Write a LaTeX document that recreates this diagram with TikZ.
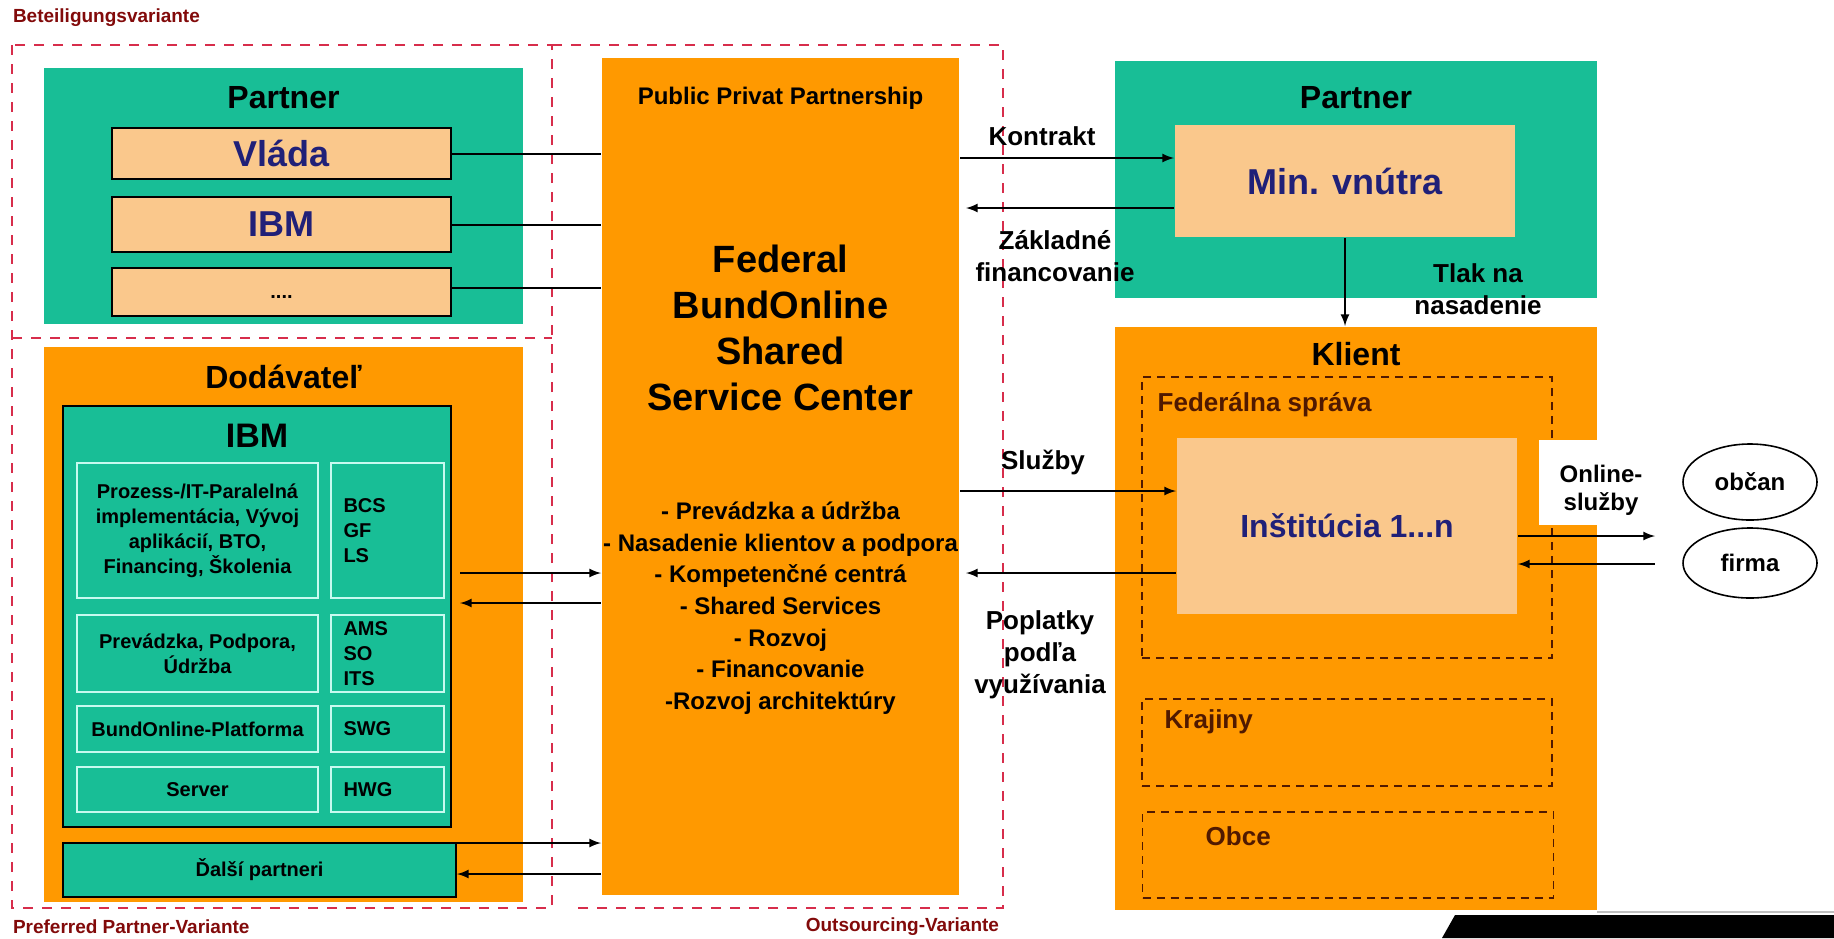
\documentclass[tikz,border=0pt]{standalone}
\usepackage{fontspec}
\setmainfont{Liberation Sans}
\usepackage{color}
\definecolor{mygreen}{RGB}{24,190,150}
\definecolor{myorange}{RGB}{255,153,0}
\definecolor{mypeach}{RGB}{250,200,140}
\definecolor{mynavy}{RGB}{32,32,120}
\definecolor{mydarkred}{RGB}{130,10,10}
\definecolor{myred}{RGB}{215,45,75}
\definecolor{mybrown}{RGB}{80,25,0}
\definecolor{mycyan}{RGB}{200,250,240}
\usepackage{tikz}
\usetikzlibrary{arrows,positioning,shapes.geometric}
\tikzstyle{greenbox}=[fill=mygreen,inner sep=0pt]
\tikzstyle{orangebox}=[fill=myorange,inner sep=0pt]
\tikzstyle{peachbox}=[fill=mypeach,inner sep=0pt]
\tikzstyle{cell}=[draw=mycyan,line width=0.8pt,inner sep=0pt]
\tikzstyle{zone}=[draw=mybrown,dashed,line width=0.8pt,inner sep=0pt,dash pattern=on 4pt off 3pt]
\tikzstyle{variant}=[draw=myred,line width=1.3pt,dash pattern=on 5pt off 4.5pt]
\tikzstyle{title}=[font=\bfseries\fontsize{16}{19}\selectfont]
\tikzstyle{navytxt}=[font=\bfseries\fontsize{18}{21}\selectfont,text=mynavy]
\tikzstyle{small}=[font=\bfseries\fontsize{10}{12.5}\selectfont,align=center]
\tikzstyle{zonetxt}=[font=\bfseries\fontsize{13}{15}\selectfont,text=mybrown,anchor=west]
\tikzstyle{lbl}=[font=\bfseries\fontsize{13}{16}\selectfont,align=center]
\tikzstyle{redlbl}=[font=\bfseries\fontsize{9.5}{11}\selectfont,text=mydarkred,inner sep=0pt]

\begin{document}
\begin{tikzpicture}[x=0.5pt,y=-0.5pt,>=latex,line width=1pt]
\useasboundingbox (0,0) rectangle (1834,938);

% variants
\draw[variant] (12,45) rectangle (552,908);
\draw[variant] (12,338) -- (552,338);
\draw[variant] (552,45) -- (1003,45) -- (1003,908) -- (570,908);
\node[redlbl,anchor=west] (bet) at (12,18) {Beteiligungsvariante};
\node[redlbl,anchor=west] (ppv) at (12,927) {Preferred Partner-Variante};
\node[redlbl,anchor=east] (osv) at (1000,927) {Outsourcing-Variante};

% partner (left)
\node[greenbox,minimum width=239.5pt,minimum height=128pt] (ptnl) at (283.5,196) {};
\node[title] (ptnlt) at (283.5,98) {Partner};
\node[peachbox,draw=black,minimum width=169.5pt,minimum height=25.5pt,navytxt] (vlada) at (281.5,153.5) {Vláda};
\node[peachbox,draw=black,minimum width=169.5pt,minimum height=27.5pt,navytxt] (ibmp) at (281.5,224.5) {IBM};
\node[peachbox,draw=black,minimum width=169.5pt,minimum height=24pt,small] (dots) at (281.5,292) {\\[-6pt]....};

% dodavatel
\node[orangebox,minimum width=239.5pt,minimum height=277.5pt] (dod) at (283.5,624.5) {};
\node[title] (dodt) at (283.5,377) {Dodávateľ};
\node[greenbox,draw=black,line width=1pt,minimum width=194pt,minimum height=210.5pt] (ibm) at (257,616.5) {};
\node[title,font=\bfseries\fontsize{17}{20}\selectfont] (ibmt) at (257,436) {IBM};
\node[cell,small,minimum width=120.5pt,minimum height=67.5pt] (c1) at (197.5,530.5)
  {Prozess-/IT-Paralelná\\implementácia, Vývoj\\aplikácií, BTO,\\Financing, Školenia};
\node[cell,small,align=left,text width=44pt,minimum width=56.5pt,minimum height=67.5pt] (d1) at (387.5,530.5) {BCS\\GF\\LS};
\node[cell,small,minimum width=120.5pt,minimum height=38.5pt] (c2) at (197.5,653.5) {Prevádzka, Podpora,\\Údržba};
\node[cell,small,align=left,text width=44pt,minimum width=56.5pt,minimum height=38.5pt] (d2) at (387.5,653.5) {AMS\\SO\\ITS};
\node[cell,small,minimum width=120.5pt,minimum height=23pt] (c3) at (197.5,729) {BundOnline-Platforma};
\node[cell,small,align=left,text width=44pt,minimum width=56.5pt,minimum height=23pt] (d3) at (387.5,729) {SWG};
\node[cell,small,minimum width=120.5pt,minimum height=22.5pt] (c4) at (197.5,789.5) {Server};
\node[cell,small,align=left,text width=44pt,minimum width=56.5pt,minimum height=22.5pt] (d4) at (387.5,789.5) {HWG};
\node[greenbox,draw=black,line width=1pt,small,minimum width=196.5pt,minimum height=27pt] (dalsi) at (259.5,870) {Ďalší partneri};

% shared service center
\node[orangebox,minimum width=178.5pt,minimum height=418.5pt] (fed) at (780.5,476.5) {};
\node[font=\bfseries\fontsize{12}{14}\selectfont] (ppp) at (780.5,98) {Public Privat Partnership};
\node[font=\bfseries\fontsize{19}{23}\selectfont,align=center] (fedt) at (780.5,328) {Federal\\BundOnline\\Shared\\Service Center};
\node[font=\bfseries\fontsize{12}{15.8}\selectfont,align=center] (tasks) at (780.5,608)
  {- Prevádzka a údržba\\- Nasadenie klientov a podpora\\- Kompetenčné centrá\\- Shared Services\\- Rozvoj\\- Financovanie\\-Rozvoj architektúry};

% partner (right)
\node[greenbox,minimum width=241pt,minimum height=118.5pt] (ptnr) at (1356,179.5) {};
\node[title] (ptnrt) at (1356,98) {Partner};
\node[peachbox,minimum width=170pt,minimum height=56pt,navytxt] (minv) at (1345,181) {Min. vnútra};

% klient
\node[orangebox,minimum width=241pt,minimum height=291.5pt] (klient) at (1356,618.5) {};
\node[title] (klientt) at (1356,354) {Klient};
\node[zone,minimum width=205pt,minimum height=140.5pt] (fedsp) at (1347,517.5) {};
\node[zonetxt] (fedspt) at (1150,405) {Federálna správa};
\node[peachbox,minimum width=170pt,minimum height=88pt,navytxt,font=\bfseries\fontsize{16}{19}\selectfont] (inst) at (1347,526) {Inštitúcia 1...n};
\node[zone,minimum width=205pt,minimum height=43.5pt] (kraj) at (1347,742.5) {};
\node[zonetxt] (krajt) at (1157,722) {Krajiny};
\node[zone,minimum width=205.5pt,minimum height=43pt] (obce) at (1348,855) {};
\node[zonetxt] (obcet) at (1198,836) {Obce};
\fill[white] (1539,440) rectangle (1597,525);
\node[font=\bfseries\fontsize{12}{14}\selectfont,align=center] (onl) at (1601,490) {Online-\\služby};
\node[draw,ellipse,line width=0.8pt,minimum width=67pt,minimum height=38pt,font=\bfseries\fontsize{12}{14}\selectfont] (obcan) at (1750,482) {občan};
\node[draw,ellipse,line width=0.8pt,minimum width=67pt,minimum height=35pt,font=\bfseries\fontsize{12}{14}\selectfont] (firma) at (1750,563) {firma};
\coordinate (onlend) at (1655,550);

% connectors
\draw (vlada.east) -- (vlada.east -| fed.west);
\draw (ibmp.east) -- (ibmp.east -| fed.west);
\draw ([yshift=2pt]dots.east) -- ([yshift=2pt]dots.east -| fed.west);
\draw[->] ([xshift=4pt,yshift=21.75pt]ibm.east) -- ([yshift=21.75pt]ibm.east -| fed.west);
\draw[<-] ([xshift=4pt,yshift=6.75pt]ibm.east) -- ([yshift=6.75pt]ibm.east -| fed.west);
\draw[->] ([yshift=13.5pt]dalsi.east) -- ([yshift=13.5pt]dalsi.east -| fed.west);
\draw[<-] ([yshift=-2pt]dalsi.east) -- ([yshift=-2pt]dalsi.east -| fed.west);
\draw[->] ([yshift=11.5pt]minv.west -| fed.east) -- ([yshift=11.5pt]minv.west);
\draw[<-] ([xshift=3pt,yshift=-13.5pt]minv.west -| fed.east) -- ([yshift=-13.5pt]minv.west);
\draw[->] (minv.south) -- (minv.south |- klient.north);
\draw[->] ([yshift=17.5pt]inst.west -| fed.east) -- ([yshift=17.5pt]inst.west);
\draw[<-] ([xshift=3pt,yshift=-23.5pt]inst.west -| fed.east) -- ([yshift=-23.5pt]inst.west);
\draw[->] ([yshift=-5pt]inst.east) -- ([yshift=-5pt]inst.east -| onlend);
\draw[<-] ([yshift=-19pt]inst.east) -- ([yshift=-19pt]inst.east -| onlend);

% connector labels
\node[lbl] (kon) at (1042,136) {Kontrakt};
\node[lbl] (zakl) at (1055,256) {Základné\\financovanie};
\node[lbl] (tlak) at (1478,289) {Tlak na\\nasadenie};
\node[lbl] (sluz) at (1043,462) {Služby};
\node[lbl] (popl) at (1040,655) {Poplatky\\podľa\\využívania};

% corner
\draw[gray!50,line width=1pt] (1597,912) -- (1834,912);
\fill[black] (1455,915) -- (1834,915) -- (1834,938) -- (1442,938) -- cycle;
\end{tikzpicture}
\end{document}
